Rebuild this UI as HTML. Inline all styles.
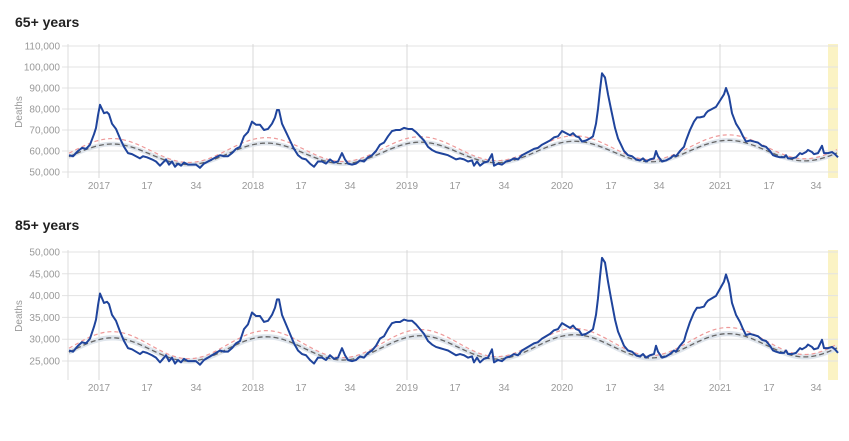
<!DOCTYPE html>
<html><head><meta charset="utf-8"><style>
html,body{margin:0;padding:0;background:#fff;width:849px;height:441px;overflow:hidden;font-family:"Liberation Sans",sans-serif}
</style></head><body>
<svg id="s" width="849" height="441" xmlns="http://www.w3.org/2000/svg" font-family="Liberation Sans, sans-serif"></svg>
<script>
var K=[69,58,73,57.5,78,60,82,61.5,86,61,90,63,94,68,96,71,98,77,100,82,102,80,104,78,107,78.5,109,77.5,112,73,116,70.5,120,66,124,62,128,59,132,58.5,136,57.5,140,56.5,143,57.5,147,57,152,56,156,55,160,53,163,54.5,166,56,169,53.5,172,55,175,52.5,178,54,181,53,184,54.5,188,53.5,192,53.5,196,53.5,200,52,204,54,208,55,212,56,216,57,220,58,224,57.5,228,57.5,232,59,236,61,240,62,244,67,248,69,252,74,256,72.5,260,72.5,264,70,268,70.5,272,73,275,76,277,79.5,279,79.5,282,73,286,69,290,65,294,61,298,58,302,56.5,306,56,310,54,314,52.5,318,55,322,55,326,54,330,56,334,54.5,338,55,342,59,345,56,348,54,352,53.5,356,54,360,55.5,364,55,368,57,372,58,376,60,380,63,384,64,388,67,392,69.5,396,70,400,70,404,71,408,70.5,412,70.5,416,69,420,67,424,65,428,62,432,60.5,436,59.5,440,59,444,58.5,448,58,452,57,456,56,460,56.5,464,56,468,55,472,55.5,474,53,477,55,480,53,484,54.5,488,55,492,58.5,494,53,498,54,502,53.5,506,55,510,55.5,514,56.5,518,56,522,58,526,59,530,60,534,61,538,61.5,542,63,546,64,550,65,554,66.5,558,67,562,69.5,566,68.5,570,67.5,573,68.5,576,67,579,66.5,582,64.5,586,65,590,66,593,67,596,73,598,80,600,89,602,97,605,95,608,87,611,80,615,71,618,66,621,63,624,60,628,58,632,57.5,636,56,640,55.5,643,56.5,646,55,650,56,654,56.5,656,60,658,57.5,662,55,666,55.5,670,56.5,674,58,676,57.5,680,60,684,62,686,65,690,70,694,74,697,76,700,76,704,76.5,706,78,708,79,712,80,716,81,720,84,724,87,726,90,729,86,732,78,736,73,740,70,743,67,746,64.5,750,65,754,64.5,758,64,762,62.5,766,62,770,60,773,58,776,57.5,780,57,784,57,786,58,788,56.5,792,56.5,796,57,800,59,802,58.5,806,59.5,808,60.5,812,59.5,814,58.5,818,59,822,62.5,824,59,828,59,832,59.5,835,58.5,838,57];
var s=document.getElementById('s'),h='';
function panel(title,ty,top,ylo,bot,vmax,vmin,step,lbls,fy){
 h+='<text x="15" y="'+ty+'" font-size="14" font-weight="bold" fill="#222">'+title+'</text>';
 var Y=function(v){return top+(vmax-v)/(vmax-vmin)*(ylo-top)};
 h+='<rect x="828" y="'+(top-2)+'" width="10" height="'+(bot-top+2)+'" fill="#fbf3c4"/>';
 for(var i=0;i<lbls.length;i++){var v=vmax-i*step,y=Y(v);
  h+='<line x1="62" x2="838" y1="'+y+'" y2="'+y+'" stroke="#e3e3e3"/>';
  h+='<text x="60" y="'+(y+3.5)+'" font-size="10" fill="#999" text-anchor="end">'+lbls[i]+'</text>';}
 var tk=[[99,'2017'],[147,'17'],[196,'34'],[253,'2018'],[301,'17'],[350,'34'],[407,'2019'],[455,'17'],[504,'34'],[562,'2020'],[611,'17'],[659,'34'],[720,'2021'],[769,'17'],[816,'34']];
 tk.forEach(function(t){ if(t[1].length==4) h+='<line x1="'+t[0]+'" x2="'+t[0]+'" y1="'+(top-2)+'" y2="'+bot+'" stroke="#d8d8d8"/>';
  h+='<text x="'+t[0]+'" y="'+(bot+11)+'" font-size="10" fill="#999" text-anchor="middle">'+t[1]+'</text>';});
 h+='<line x1="68" x2="68" y1="'+(top-2)+'" y2="'+bot+'" stroke="#ddd"/>';
 h+='<text transform="translate(22,'+((top+bot)/2)+') rotate(-90)" font-size="10" fill="#999" text-anchor="middle">Deaths</text>';
 var g='',r='',b1='',b2='';
 for(var x=69;x<=838;x+=2){var tr=(x-69)/770;var base=58.2+tr*2.2+5*Math.cos(2*Math.PI*(x-112)/154);
  var red=base+1.8+0.8*Math.cos(2*Math.PI*(x-112)/154);
  g+=x+','+Y(fy(base))+' ';r+=x+','+Y(fy(red))+' ';b1+=x+','+Y(fy(base+1.1))+' ';b2=x+','+Y(fy(base-1.1))+' '+b2;}
 h+='<polygon points="'+b1+b2+'" fill="#dfe5ec"/>';
 h+='<polyline points="'+r+'" fill="none" stroke="#ee9a9a" stroke-width="1.2" stroke-dasharray="4,3"/>';
 h+='<polyline points="'+g+'" fill="none" stroke="#666" stroke-width="1.3" stroke-dasharray="5,3"/>';
 var p='';for(var i=0;i<K.length;i+=2)p+=K[i]+','+Y(fy(K[i+1]))+' ';
 h+='<polyline points="'+p+'" fill="none" stroke="#1f449c" stroke-width="2" stroke-linejoin="round"/>';
}
panel('65+ years',27,46,172,178,110,50,10,['110,000','100,000','90,000','80,000','70,000','60,000','50,000'],function(v){return v});
panel('85+ years',230,252,361,380,50,25,5,['50,000','45,000','40,000','35,000','30,000','25,000'],function(v){return 0.545*v-4.2});
s.innerHTML=h;
</script>
</body></html>
